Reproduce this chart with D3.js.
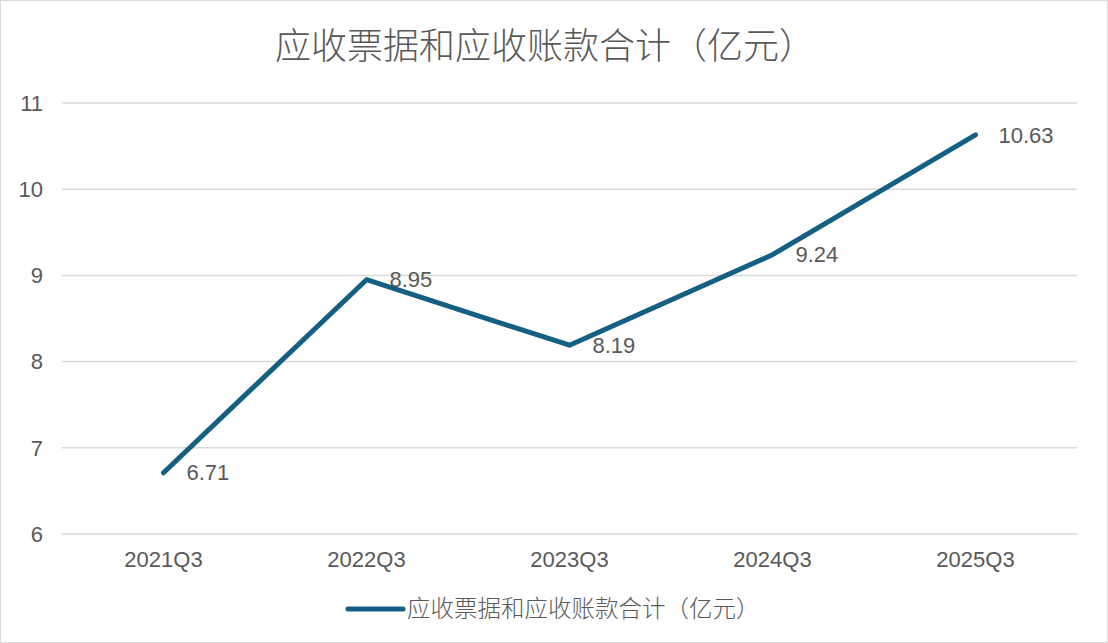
<!DOCTYPE html>
<html>
<head>
<meta charset="utf-8">
<script src="https://cdn.jsdelivr.net/npm/d3@7"></script>
<style>
  body { margin: 0; background: #fff; }
  text { fill: #595959; }
  .num { font-family: "Liberation Sans", Arial, sans-serif; }
  .cjk { font-family: "Noto Sans CJK SC", "Liberation Sans", sans-serif; }
</style>
</head>
<body>
<svg id="chart" width="1108" height="643"></svg>
<script>
// data
var quarters = ["2021Q3", "2022Q3", "2023Q3", "2024Q3", "2025Q3"];
var values = [6.71, 8.95, 8.19, 9.24, 10.63];
var yTicks = [6, 7, 8, 9, 10, 11];
var seriesName = "应收票据和应收账款合计（亿元）";

var W = 1108, H = 643;
var margin = {top: 103, right: 31, bottom: 109, left: 62};
var lineColor = "#156082";

var svg = d3.select("#chart");

svg.append("rect")
  .attr("x", 0.5).attr("y", 0.5)
  .attr("width", W - 1).attr("height", H - 1)
  .attr("fill", "#fff")
  .attr("stroke", "#d9d9d9");

var x = d3.scaleBand().domain(quarters).range([margin.left, W - margin.right]);
var y = d3.scaleLinear().domain([6, 11]).range([H - margin.bottom, margin.top]);

// gridlines
svg.append("g").selectAll("line")
  .data(yTicks).enter().append("line")
  .attr("x1", margin.left).attr("x2", W - margin.right)
  .attr("y1", function(d) { return y(d); })
  .attr("y2", function(d) { return y(d); })
  .attr("stroke", "#d9d9d9")
  .attr("stroke-width", 1.5);

// y labels
svg.append("g").selectAll("text")
  .data(yTicks).enter().append("text")
  .attr("class", "num")
  .attr("x", 43)
  .attr("y", function(d) { return y(d); })
  .attr("dy", "0.35em")
  .attr("text-anchor", "end")
  .attr("font-size", 22)
  .text(function(d) { return d; });

// x labels
svg.append("g").selectAll("text")
  .data(quarters).enter().append("text")
  .attr("class", "num")
  .attr("x", function(d) { return x(d) + x.bandwidth() / 2; })
  .attr("y", 567)
  .attr("text-anchor", "middle")
  .attr("font-size", 22)
  .text(function(d) { return d; });

var pts = quarters.map(function(q, i) { return {q: q, v: values[i]}; });

var line = d3.line()
  .x(function(d) { return x(d.q) + x.bandwidth() / 2; })
  .y(function(d) { return y(d.v); });

svg.append("path")
  .datum(pts)
  .attr("d", line)
  .attr("fill", "none")
  .attr("stroke", lineColor)
  .attr("stroke-width", 5)
  .attr("stroke-linejoin", "round")
  .attr("stroke-linecap", "round");

// data labels, to the right of each point
svg.append("g").selectAll("text")
  .data(pts).enter().append("text")
  .attr("class", "num")
  .attr("x", function(d) { return x(d.q) + x.bandwidth() / 2 + 23; })
  .attr("y", function(d) { return y(d.v); })
  .attr("dy", "0.35em")
  .attr("font-size", 22)
  .text(function(d) { return d.v.toFixed(2); });

// title
svg.append("text")
  .attr("class", "cjk")
  .attr("x", 545)
  .attr("y", 59)
  .attr("text-anchor", "middle")
  .attr("font-size", 36)
  .attr("font-weight", 300)
  .text(seriesName);

// legend
var lg = svg.append("g").attr("transform", "translate(348,609)");
lg.append("line")
  .attr("x1", 0).attr("x2", 55)
  .attr("y1", 0).attr("y2", 0)
  .attr("stroke", lineColor)
  .attr("stroke-width", 5)
  .attr("stroke-linecap", "round");
lg.append("text")
  .attr("class", "cjk")
  .attr("x", 59)
  .attr("y", 0)
  .attr("dy", "0.35em")
  .attr("font-size", 23.5)
  .attr("font-weight", 300)
  .text(seriesName);
</script>
</body>
</html>
